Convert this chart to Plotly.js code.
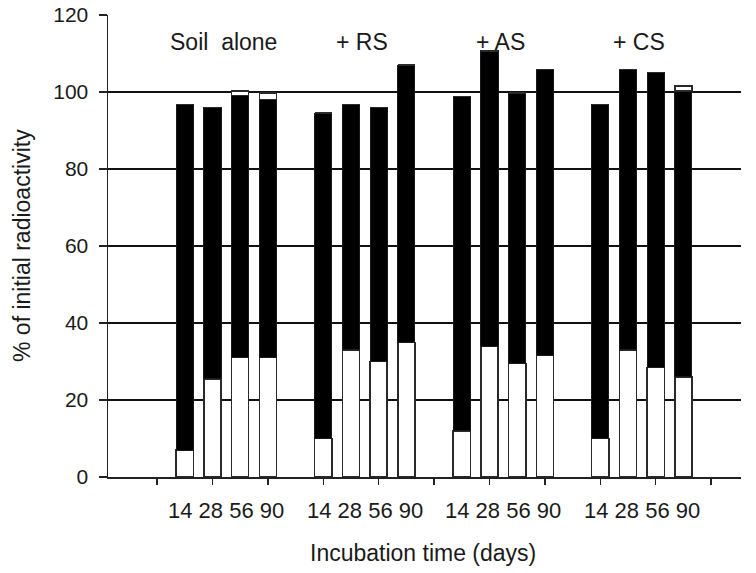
<!DOCTYPE html>
<html>
<head>
<meta charset="utf-8">
<script src="https://cdn.plot.ly/plotly-3.0.1.min.js"></script>
<style>html,body{margin:0;padding:0;background:#fff;}#chart{width:756px;height:573px;}</style>
</head>
<body>
<div id="chart"></div>
<script>
// Groups and incubation times
var groups = ["Soil\u00a0 alone", "+ RS", "+ AS", "+ CS"];
var days = ["14", "28", "56", "90"];
var yTicks = [0, 20, 40, 60, 80, 100, 120];

// Segment values (% of initial radioactivity)
// bottom (white) segment
var bottomSoil = [7, 25.5, 31, 31];
var bottomRS   = [10, 33, 30, 35];
var bottomAS   = [12, 34, 29.5, 31.5];
var bottomCS   = [10, 33, 28.5, 26];
// middle (black) segment
var middleSoil = [89.8, 70.5, 68.1, 67.1];
var middleRS   = [84.5, 63.8, 66, 72];
var middleAS   = [86.8, 76.7, 70.2, 74.4];
var middleCS   = [86.8, 72.9, 76.6, 74.3];
// top (white) cap segment
var topSoil = [0, 0, 1.2, 1.6];
var topRS   = [0, 0, 0, 0];
var topAS   = [0, 0, 0, 0];
var topCS   = [0, 0, 0, 1.3];

var bottoms = [bottomSoil, bottomRS, bottomAS, bottomCS];
var middles = [middleSoil, middleRS, middleAS, middleCS];
var tops = [topSoil, topRS, topAS, topCS];

var xs = [], yb = [], ym = [], yt = [];
for (var g = 0; g < groups.length; g++) {
  for (var i = 0; i < days.length; i++) {
    xs.push(g * 5 + i + 1);
    yb.push(bottoms[g][i]);
    ym.push(middles[g][i]);
    yt.push(tops[g][i]);
  }
}

var bw = 0.62;
var traces = [
  {type: 'bar', x: xs, y: yb, width: bw, marker: {color: '#ffffff', line: {color: '#2a2a2a', width: 1.5}}, hoverinfo: 'y'},
  {type: 'bar', x: xs, y: ym, width: bw, marker: {color: '#000000', line: {color: '#1a1a1a', width: 1}}, hoverinfo: 'y'},
  {type: 'bar', x: xs, y: yt, width: bw, marker: {color: '#ffffff', line: {color: '#2a2a2a', width: 1.5}}, hoverinfo: 'y'}
];

var txtColor = '#1a1a1a';
var font = 'Liberation Sans, Arial, Helvetica, sans-serif';
var annotations = [];
for (var g = 0; g < groups.length; g++) {
  var cx = g * 5 + 2.4;
  annotations.push({x: cx, y: 1, xref: 'x', yref: 'paper', yshift: -27, text: groups[g], showarrow: false,
    font: {family: font, size: 23, color: txtColor}, xanchor: 'center', yanchor: 'middle'});
  annotations.push({x: cx + 0.1, y: 0, xref: 'x', yref: 'paper', yshift: -33, text: days.join(' '), showarrow: false,
    font: {family: font, size: 22, color: txtColor}, xanchor: 'center', yanchor: 'middle'});
}
annotations.push({x: 0.497, y: 0, xref: 'paper', yref: 'paper', yshift: -76, text: 'Incubation time (days)', showarrow: false,
  font: {family: font, size: 23, color: txtColor}, xanchor: 'center', yanchor: 'middle'});
annotations.push({x: 0, y: 0.5, xref: 'paper', yref: 'paper', xshift: -86, text: '% of initial radioactivity', showarrow: false, textangle: -90,
  font: {family: font, size: 23, color: txtColor}, xanchor: 'center', yanchor: 'middle'});

var layout = {
  width: 756, height: 573,
  margin: {l: 108, r: 15, t: 15, b: 96},
  barmode: 'stack',
  showlegend: false,
  paper_bgcolor: '#ffffff', plot_bgcolor: '#ffffff',
  font: {family: font, color: txtColor},
  xaxis: {
    range: [-1.77, 21.08], tickvals: [0, 2, 4, 6, 8, 10, 12, 14, 16, 18, 20],
    showticklabels: false, ticks: 'outside', ticklen: 6, tickwidth: 1.5, tickcolor: '#222',
    showgrid: false, zeroline: false, showline: true, linecolor: '#222', linewidth: 1.5, fixedrange: true
  },
  yaxis: {
    range: [0, 120], tickvals: yTicks, ticktext: yTicks.map(String),
    ticks: 'outside', ticklen: 8, tickwidth: 1.5, tickcolor: '#222', ticklabelstandoff: 6,
    tickfont: {family: font, size: 21, color: txtColor},
    showgrid: true, gridcolor: '#111', gridwidth: 1.2, zeroline: false,
    showline: true, linecolor: '#222', linewidth: 1.5, fixedrange: true
  },
  annotations: annotations
};

Plotly.newPlot('chart', traces, layout, {displayModeBar: false, staticPlot: true});
</script>
</body>
</html>
